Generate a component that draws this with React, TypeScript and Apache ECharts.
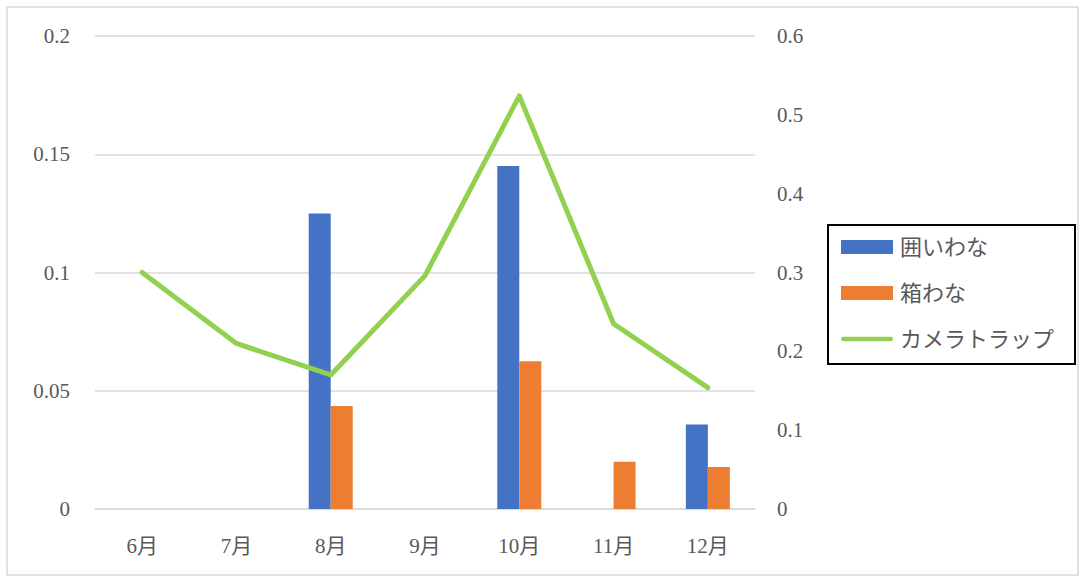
import React, { useEffect, useRef } from "react";
import * as echarts from "echarts";

const months = ["6月", "7月", "8月", "9月", "10月", "11月", "12月"];
const kakoiWana = [0, 0, 0.125, 0, 0.145, 0, 0.0357];
const hakoWana = [0, 0, 0.0435, 0, 0.0625, 0.02, 0.0178];
const cameraTrap = [0.3, 0.21, 0.17, 0.296, 0.524, 0.235, 0.154];
const seriesNames = ["囲いわな", "箱わな", "カメラトラップ"];

const FONT = "'Liberation Serif', 'Noto Sans CJK JP', serif";
const TEXT = "#595959";

export default function App() {
  const ref = useRef<HTMLDivElement>(null);
  useEffect(() => {
    if (!ref.current) return;
    const chart = echarts.init(ref.current, null, { renderer: "svg" });
    chart.setOption({
      animation: false,
      backgroundColor: "#ffffff",
      textStyle: { fontFamily: FONT },
      graphic: [
        {
          type: "rect",
          shape: { x: 7, y: 7, width: 1071, height: 568 },
          style: { fill: "none", stroke: "#d9d9d9", lineWidth: 1.5 },
          silent: true,
        },
      ],
      grid: { left: 95, right: 329, top: 36, bottom: 70, containLabel: false },
      legend: {
        orient: "vertical",
        left: 828,
        top: 225,
        padding: [11, 21, 14, 13],
        itemGap: 24,
        itemWidth: 52,
        itemHeight: 14,
        borderColor: "#000000",
        borderWidth: 2,
        textStyle: { fontFamily: FONT, fontSize: 22, color: TEXT, padding: [0, 0, 0, 2] },
        data: [
          { name: seriesNames[0], icon: "rect" },
          { name: seriesNames[1], icon: "rect" },
          { name: seriesNames[2], icon: "path://M2.5,0 L53.5,0 A2.5,2.5 0 0 1 53.5,5 L2.5,5 A2.5,2.5 0 0 1 2.5,0 Z" },
        ],
      },
      xAxis: {
        type: "category",
        data: months,
        axisLine: { show: true, lineStyle: { color: "#d9d9d9", width: 1.5 } },
        axisTick: { show: false },
        axisLabel: { color: TEXT, fontSize: 21, fontFamily: FONT, margin: 26 },
      },
      yAxis: [
        {
          type: "value",
          min: 0,
          max: 0.2,
          interval: 0.05,
          axisLine: { show: false },
          axisTick: { show: false },
          splitLine: { lineStyle: { color: "#d9d9d9", width: 1.5 } },
          axisLabel: { color: TEXT, fontSize: 21, fontFamily: FONT, margin: 25 },
        },
        {
          type: "value",
          min: 0,
          max: 0.6,
          interval: 0.1,
          axisLine: { show: false },
          axisTick: { show: false },
          splitLine: { show: false },
          axisLabel: { color: TEXT, fontSize: 21, fontFamily: FONT, margin: 22, formatter: (v: number) => String(Math.round(v * 10) / 10) },
        },
      ],
      series: [
        {
          name: seriesNames[0],
          type: "bar",
          yAxisIndex: 0,
          data: kakoiWana,
          barWidth: 22,
          barGap: "0%",
          itemStyle: { color: "#4472c4" },
        },
        {
          name: seriesNames[1],
          type: "bar",
          yAxisIndex: 0,
          data: hakoWana,
          barWidth: 22,
          barGap: "0%",
          itemStyle: { color: "#ed7d31" },
        },
        {
          name: seriesNames[2],
          type: "line",
          yAxisIndex: 1,
          data: cameraTrap,
          symbol: "none",
          lineStyle: { color: "#92d050", width: 5, cap: "round", join: "round" },
          itemStyle: { color: "#92d050" },
        },
      ],
    });
    return () => chart.dispose();
  }, []);
  return (
    <div
      ref={ref}
      style={{ position: "absolute", left: 0, top: 0, width: 1084, height: 579 }}
    />
  );
}
